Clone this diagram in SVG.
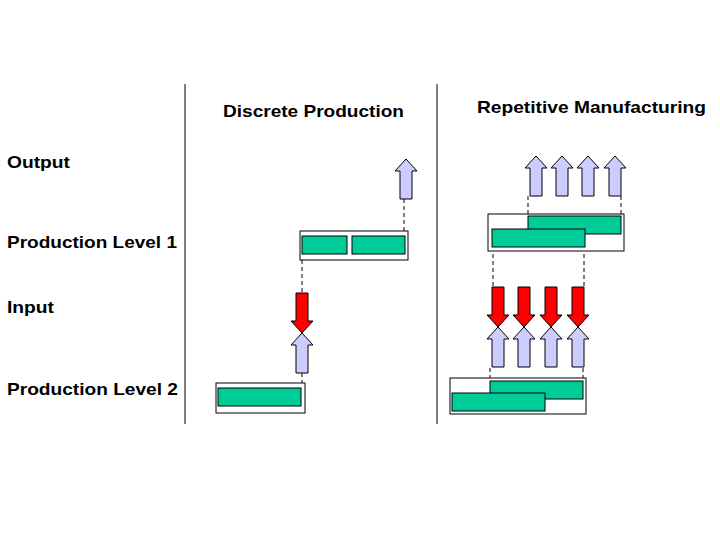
<svg xmlns="http://www.w3.org/2000/svg" width="720" height="540" viewBox="0 0 720 540">
<style>
.t{font-family:"Liberation Sans",Arial,sans-serif;font-weight:bold;font-size:17px;fill:#000}
.box{fill:#fff;stroke:#000;stroke-width:1}
.g{fill:#00CC99;stroke:#000;stroke-width:1}
.up{fill:#CCCCFF;stroke:#000;stroke-width:1}
.dn{fill:#FF0000;stroke:#000;stroke-width:1}
.d{stroke:#000;stroke-width:1;stroke-dasharray:4,3;fill:none}
.v{stroke:#000;stroke-width:1}
</style>
<defs>
<path id="ua" d="M0,0 L11,12 L6,12 L6,40 L-6,40 L-6,12 L-11,12 Z"/>
<path id="da" d="M0,0 L11,-12 L6,-12 L6,-40 L-6,-40 L-6,-12 L-11,-12 Z"/>
</defs>
<rect width="720" height="540" fill="#fff"/>
<line class="v" x1="185" y1="84" x2="185" y2="424"/>
<line class="v" x1="437" y1="84" x2="437" y2="424"/>
<g id="labels">
<text class="t" x="223" y="117" textLength="181" lengthAdjust="spacingAndGlyphs">Discrete Production</text>
<text class="t" x="477" y="113" textLength="229" lengthAdjust="spacingAndGlyphs">Repetitive Manufacturing</text>
<text class="t" x="7" y="168" textLength="63" lengthAdjust="spacingAndGlyphs">Output</text>
<text class="t" x="7" y="248" textLength="170" lengthAdjust="spacingAndGlyphs">Production Level 1</text>
<text class="t" x="7" y="313" textLength="47" lengthAdjust="spacingAndGlyphs">Input</text>
<text class="t" x="7" y="395" textLength="171" lengthAdjust="spacingAndGlyphs">Production Level 2</text>
</g>
<g id="connectors">
<line class="d" x1="404" y1="199" x2="404" y2="231"/>
<line class="d" x1="302" y1="260" x2="302" y2="293"/>
<line class="d" x1="302" y1="373" x2="302" y2="383"/>
<line class="d" x1="528" y1="196" x2="528" y2="216"/>
<line class="d" x1="621" y1="196" x2="621" y2="216"/>
<line class="d" x1="493" y1="247" x2="493" y2="287"/>
<line class="d" x1="584" y1="247" x2="584" y2="287"/>
<line class="d" x1="490" y1="368" x2="490" y2="381"/>
<line class="d" x1="583" y1="368" x2="583" y2="381"/>
</g>
<g id="discrete-level1">
<rect class="box" x="300" y="231" width="108" height="29"/>
<rect class="g" x="302" y="236" width="45" height="18"/>
<rect class="g" x="352" y="236" width="53" height="18"/>
</g>
<g id="discrete-level2">
<rect class="box" x="216" y="383" width="89" height="30"/>
<rect class="g" x="218" y="388" width="83" height="18"/>
</g>
<g id="discrete-arrows">
<use href="#ua" class="up" x="406" y="159"/>
<use href="#da" class="dn" x="302" y="333"/>
<use href="#ua" class="up" x="302" y="333"/>
</g>
<g id="repetitive-level1">
<rect class="box" x="488" y="214" width="136" height="37"/>
<rect class="g" x="528" y="216" width="93" height="18"/>
<rect class="g" x="492" y="229" width="93" height="18"/>
</g>
<g id="repetitive-level2">
<rect class="box" x="450" y="378" width="136" height="36"/>
<rect class="g" x="490" y="381" width="93" height="18"/>
<rect class="g" x="452" y="393" width="93" height="18"/>
</g>
<g id="repetitive-arrows">
<use href="#ua" class="up" x="536" y="156"/>
<use href="#ua" class="up" x="562" y="156"/>
<use href="#ua" class="up" x="588" y="156"/>
<use href="#ua" class="up" x="615" y="156"/>
<use href="#da" class="dn" x="498" y="327"/>
<use href="#da" class="dn" x="524" y="327"/>
<use href="#da" class="dn" x="551" y="327"/>
<use href="#da" class="dn" x="578" y="327"/>
<use href="#ua" class="up" x="498" y="327"/>
<use href="#ua" class="up" x="524" y="327"/>
<use href="#ua" class="up" x="551" y="327"/>
<use href="#ua" class="up" x="578" y="327"/>
</g>
</svg>
